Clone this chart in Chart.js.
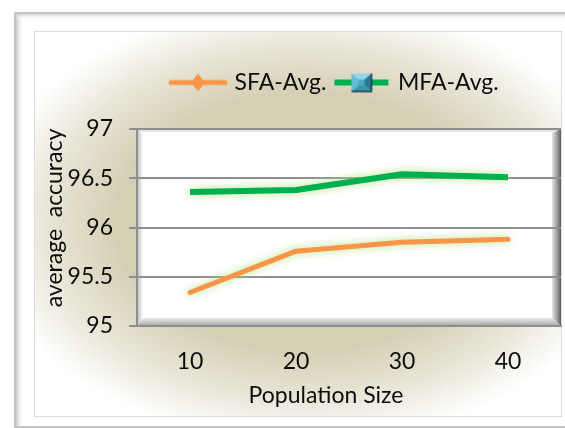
<!DOCTYPE html>
<html>
<head>
<meta charset="utf-8">
<script src="https://cdn.jsdelivr.net/npm/chart.js@4.4.0/dist/chart.umd.min.js"></script>
<style>
  html, body { margin: 0; padding: 0; background: #ffffff; overflow: hidden; }
  #wrap { width: 565px; height: 428px; position: relative; }
</style>
</head>
<body>
<div id="wrap"><canvas id="chart" width="565" height="428"></canvas></div>
<script>
// ---- data ----
const populationSizes = ['10', '20', '30', '40'];
const sfaAvg = [95.34, 95.76, 95.85, 95.88];
const mfaAvg = [96.36, 96.38, 96.54, 96.51];
const yTickValues = [95, 95.5, 96, 96.5, 97];
const seriesNames = ['SFA-Avg.', 'MFA-Avg.'];
const xAxisTitle = 'Population Size';
const yAxisTitle = 'average  accuracy';

// ---- styling ----
const FONT = 'Lato';
const TEXT = '#0d0d0d';
const GRID = '#8f8f8f';
const ORANGE = '#f79646';
const GREEN = '#00b050';

// Legend swatch: a short line with the series marker in the middle
function makeSwatch(color, lineWidth, cap, drawMarker) {
  const c = document.createElement('canvas');
  c.width = 60; c.height = 26;
  const g = c.getContext('2d');
  g.strokeStyle = color;
  g.lineWidth = lineWidth;
  g.lineCap = cap;
  g.beginPath();
  g.moveTo(3, 13);
  g.lineTo(57, 13);
  g.stroke();
  drawMarker(g, 30, 13);
  return c;
}

function diamond(g, cx, cy) {
  g.fillStyle = ORANGE;
  g.beginPath();
  g.moveTo(cx, cy - 9);
  g.lineTo(cx + 7, cy);
  g.lineTo(cx, cy + 9);
  g.lineTo(cx - 7, cy);
  g.closePath();
  g.fill();
}

function pyramidSquare(g, cx, cy) {
  const x0 = cx - 10, x1 = cx + 10, y0 = cy - 9, y1 = cy + 9;
  const ix0 = cx - 3, ix1 = cx + 3, iy0 = cy - 3, iy1 = cy + 3;
  const face = (pts, col) => {
    g.fillStyle = col;
    g.beginPath();
    g.moveTo(pts[0][0], pts[0][1]);
    for (let i = 1; i < pts.length; i++) g.lineTo(pts[i][0], pts[i][1]);
    g.closePath();
    g.fill();
  };
  face([[x0, y0], [x1, y0], [ix1, iy0], [ix0, iy0]], '#93d8ea');
  face([[x0, y0], [ix0, iy0], [ix0, iy1], [x0, y1]], '#62bdd6');
  face([[x1, y0], [x1, y1], [ix1, iy1], [ix1, iy0]], '#2a7a90');
  face([[x0, y1], [ix0, iy1], [ix1, iy1], [x1, y1]], '#3a95ae');
  face([[ix0, iy0], [ix1, iy0], [ix1, iy1], [ix0, iy1]], '#4bacc6');
  g.strokeStyle = '#143f4b';
  g.lineWidth = 1.5;
  g.beginPath();
  g.moveTo(x1, y0); g.lineTo(x1, y1); g.lineTo(x0, y1);
  g.stroke();
}

const swatches = [
  makeSwatch(ORANGE, 5, 'round', diamond),
  makeSwatch(GREEN, 6, 'butt', pyramidSquare)
];

// Picture frame, parchment background and the bevelled white plot panel
const backdrop = {
  id: 'backdrop',
  beforeDraw(chart) {
    const { ctx, width, height, chartArea: a } = chart;
    ctx.save();
    ctx.fillStyle = '#ffffff';
    ctx.fillRect(0, 0, width, height);

    // outer frame with soft inner edge
    ctx.strokeStyle = '#c4c4c4';
    ctx.lineWidth = 2;
    ctx.strokeRect(15, 13, 600, 414);
    let gl = ctx.createLinearGradient(16, 0, 24, 0);
    gl.addColorStop(0, 'rgba(195,195,195,0.95)');
    gl.addColorStop(1, 'rgba(255,255,255,0)');
    ctx.fillStyle = gl;
    ctx.fillRect(16, 14, 8, 412);
    let gt = ctx.createLinearGradient(0, 14, 0, 20);
    gt.addColorStop(0, 'rgba(210,210,210,0.9)');
    gt.addColorStop(1, 'rgba(255,255,255,0)');
    ctx.fillStyle = gt;
    ctx.fillRect(16, 14, 560, 6);

    // parchment fill inside the inner border
    const ix = 34, iy = 31, iw = 527, ih = 385;
    ctx.save();
    ctx.beginPath();
    ctx.rect(ix, iy, iw, ih);
    ctx.clip();
    ctx.translate(305, 222);
    ctx.scale(1, 0.68);
    const rg = ctx.createRadialGradient(0, 0, 0, 0, 0, 325);
    rg.addColorStop(0, '#d4ceb2');
    rg.addColorStop(0.58, '#d5cfb4');
    rg.addColorStop(0.8, '#e9e6d8');
    rg.addColorStop(1, '#ffffff');
    ctx.fillStyle = rg;
    ctx.fillRect(-400, -400, 800, 800);
    ctx.restore();
    ctx.strokeStyle = '#dcdcdc';
    ctx.lineWidth = 1;
    ctx.strokeRect(ix + 0.5, iy + 0.5, iw, ih);

    // white plot panel with bevel
    const l = a.left, t = a.top, r = a.right, b = a.bottom;
    ctx.fillStyle = '#ffffff';
    ctx.fillRect(l, t, r - l, b - t);
    const poly = (pts, fill) => {
      ctx.fillStyle = fill;
      ctx.beginPath();
      ctx.moveTo(pts[0][0], pts[0][1]);
      for (let i = 1; i < pts.length; i++) ctx.lineTo(pts[i][0], pts[i][1]);
      ctx.closePath();
      ctx.fill();
    };
    const bl = 6, bt = 4, br = 9, bb = 8;
    let g1 = ctx.createLinearGradient(l, 0, l + bl, 0);
    g1.addColorStop(0, '#b9b9b9'); g1.addColorStop(1, '#ffffff');
    poly([[l, t], [l + bl, t + bt], [l + bl, b - bb], [l, b]], g1);
    let g2 = ctx.createLinearGradient(0, t, 0, t + bt);
    g2.addColorStop(0, '#d0d0d0'); g2.addColorStop(1, '#ffffff');
    poly([[l, t], [r, t], [r - br, t + bt], [l + bl, t + bt]], g2);
    let g3 = ctx.createLinearGradient(r - br, 0, r, 0);
    g3.addColorStop(0, '#e6e6e6'); g3.addColorStop(0.6, '#9a9a9a'); g3.addColorStop(1, '#5c5c5c');
    poly([[r, t], [r, b], [r - br, b - bb], [r - br, t + bt]], g3);
    let g4 = ctx.createLinearGradient(0, b - bb, 0, b);
    g4.addColorStop(0, '#ececec'); g4.addColorStop(1, '#a3a3a3');
    poly([[l, b], [l + bl, b - bb], [r - br, b - bb], [r, b]], g4);
    ctx.restore();
  },
  afterLayout(chart) {
    // place the legend row above the panel
    const lg = chart.legend;
    if (lg) { lg.left = 163; lg.top = 61; }
  },
  afterDraw(chart) {
    // axis captions
    const { ctx } = chart;
    ctx.save();
    ctx.fillStyle = TEXT;
    ctx.font = '23px ' + FONT;
    ctx.textAlign = 'center';
    ctx.textBaseline = 'middle';
    ctx.fillText(xAxisTitle, 326, 396);
    ctx.translate(55, 218);
    ctx.rotate(-Math.PI / 2);
    ctx.fillText(yAxisTitle, 0, 0);
    ctx.restore();
  }
};

// Soft light-green glow around the series lines
const lineGlow = {
  id: 'lineGlow',
  beforeDatasetDraw(chart) {
    const ctx = chart.ctx;
    ctx.save();
    ctx.shadowColor = '#b4de86';
    ctx.shadowBlur = 8;
  },
  afterDatasetDraw(chart) {
    chart.ctx.restore();
  }
};

new Chart(document.getElementById('chart'), {
  type: 'line',
  data: {
    labels: populationSizes,
    datasets: [
      {
        label: seriesNames[0],
        data: sfaAvg,
        borderColor: ORANGE,
        backgroundColor: ORANGE,
        borderWidth: 5,
        borderCapStyle: 'round',
        borderJoinStyle: 'round',
        pointRadius: 0,
        pointHoverRadius: 0,
        tension: 0,
        fill: false
      },
      {
        label: seriesNames[1],
        data: mfaAvg,
        borderColor: GREEN,
        backgroundColor: GREEN,
        borderWidth: 6,
        borderCapStyle: 'butt',
        borderJoinStyle: 'round',
        pointRadius: 0,
        pointHoverRadius: 0,
        tension: 0,
        fill: false
      }
    ]
  },
  options: {
    responsive: false,
    animation: false,
    devicePixelRatio: 1,
    layout: { padding: { top: 86, right: 4, bottom: 0, left: 0 } },
    plugins: {
      tooltip: { enabled: false },
      legend: {
        position: 'top',
        align: 'start',
        labels: {
          usePointStyle: true,
          pointStyleWidth: 50,
          padding: 10,
          color: TEXT,
          font: { family: FONT, size: 23 },
          generateLabels(chart) {
            return chart.data.datasets.map((ds, i) => ({
              text: ds.label,
              pointStyle: swatches[i],
              datasetIndex: i,
              hidden: false,
              lineWidth: 0,
              fillStyle: 'rgba(0,0,0,0)',
              strokeStyle: 'rgba(0,0,0,0)',
              fontColor: TEXT
            }));
          }
        }
      }
    },
    scales: {
      x: {
        type: 'category',
        offset: true,
        grid: { display: false, drawTicks: false },
        border: { display: true, color: GRID, width: 2 },
        ticks: { color: TEXT, font: { family: FONT, size: 23 }, padding: 22 },
        afterFit(s) { s.height = 102; }
      },
      y: {
        min: 95,
        max: 97,
        afterBuildTicks(s) { s.ticks = yTickValues.map(v => ({ value: v })); },
        ticks: {
          color: TEXT,
          font: { family: FONT, size: 23 },
          padding: 16,
          callback: v => String(v)
        },
        grid: { color: GRID, lineWidth: 2, tickLength: 8 },
        border: { display: true, color: GRID, width: 2 },
        afterFit(s) { s.width = 137; }
      }
    }
  },
  plugins: [backdrop, lineGlow]
});
</script>
</body>
</html>
